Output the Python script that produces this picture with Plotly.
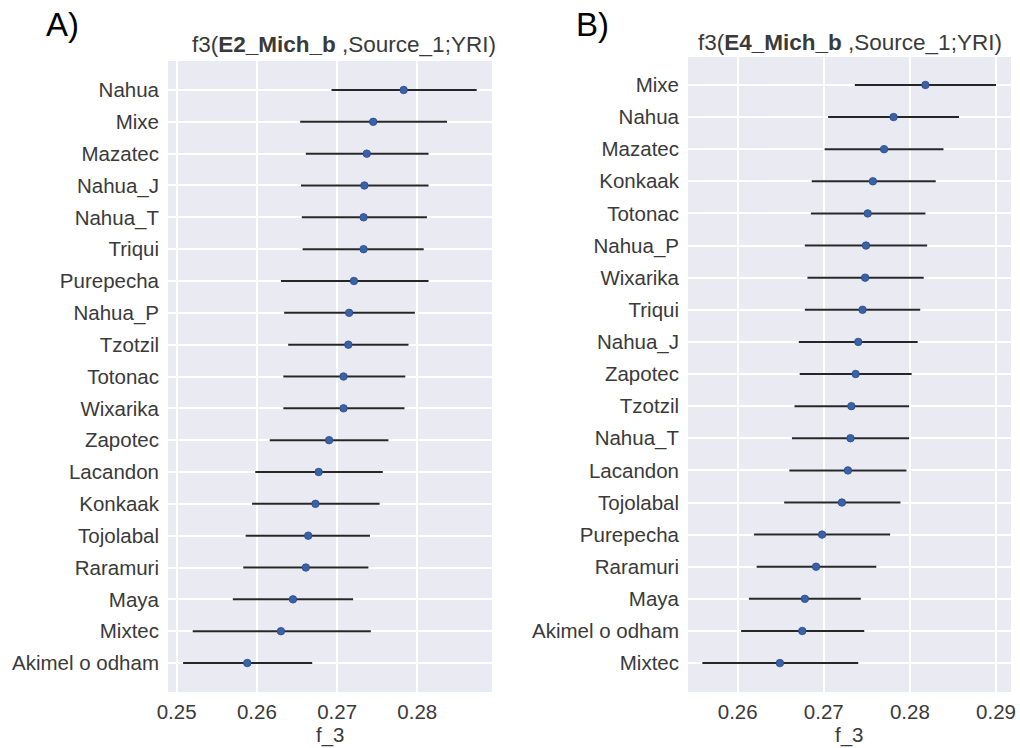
import plotly.graph_objects as go

# Panel A: f3(E2_Mich_b, Source_1; YRI)
pops_a = ["Nahua", "Mixe", "Mazatec", "Nahua_J", "Nahua_T", "Triqui", "Purepecha",
          "Nahua_P", "Tzotzil", "Totonac", "Wixarika", "Zapotec", "Lacandon",
          "Konkaak", "Tojolabal", "Raramuri", "Maya", "Mixtec", "Akimel o odham"]
f3_a = [0.2783, 0.2745, 0.2737, 0.2734, 0.2733, 0.2733, 0.2721, 0.2715, 0.2714,
        0.2708, 0.2708, 0.2690, 0.2677, 0.2673, 0.2664, 0.2661, 0.2645, 0.2630, 0.2588]
lo_a = [0.2693, 0.2654, 0.2661, 0.2655, 0.2656, 0.2657, 0.2630, 0.2634, 0.2639,
        0.2633, 0.2633, 0.2616, 0.2598, 0.2594, 0.2586, 0.2583, 0.2570, 0.2520, 0.2508]
hi_a = [0.2874, 0.2837, 0.2814, 0.2814, 0.2812, 0.2808, 0.2814, 0.2797, 0.2789,
        0.2785, 0.2784, 0.2764, 0.2757, 0.2753, 0.2741, 0.2739, 0.2720, 0.2742, 0.2669]

# Panel B: f3(E4_Mich_b, Source_1; YRI)
pops_b = ["Mixe", "Nahua", "Mazatec", "Konkaak", "Totonac", "Nahua_P", "Wixarika",
          "Triqui", "Nahua_J", "Zapotec", "Tzotzil", "Nahua_T", "Lacandon",
          "Tojolabal", "Purepecha", "Raramuri", "Maya", "Akimel o odham", "Mixtec"]
f3_b = [0.2818, 0.2781, 0.2770, 0.2757, 0.2751, 0.2749, 0.2748, 0.2745, 0.2740,
        0.2737, 0.2732, 0.2731, 0.2728, 0.2721, 0.2698, 0.2691, 0.2678, 0.2675, 0.2649]
lo_b = [0.2736, 0.2705, 0.2701, 0.2686, 0.2685, 0.2678, 0.2681, 0.2678, 0.2671,
        0.2672, 0.2666, 0.2663, 0.2660, 0.2654, 0.2619, 0.2622, 0.2613, 0.2604, 0.2559]
hi_b = [0.2900, 0.2857, 0.2839, 0.2830, 0.2818, 0.2820, 0.2816, 0.2812, 0.2809,
        0.2802, 0.2799, 0.2799, 0.2796, 0.2789, 0.2777, 0.2761, 0.2743, 0.2747, 0.2740]

ticks_a = [0.25, 0.26, 0.27, 0.28]
ticks_b = [0.26, 0.27, 0.28, 0.29]

W, H = 1020, 748
FONT = "Liberation Sans, Arial, sans-serif"
TXT = "#3a3a3a"
BG = "#EAEAF2"
DOT = "#3A62A8"
BAR = "#262626"

fig = go.Figure()


def add_panel(pops, mid, lo, hi, xa, ya):
    fig.add_trace(go.Scatter(
        x=mid, y=list(range(len(pops))), mode="markers",
        xaxis=xa, yaxis=ya,
        marker=dict(color=DOT, size=7.5, line=dict(color="#2a4a85", width=0.8)),
        error_x=dict(type="data", symmetric=False,
                     array=[h - m for h, m in zip(hi, mid)],
                     arrayminus=[m - l for m, l in zip(mid, lo)],
                     color=BAR, thickness=2, width=0),
        showlegend=False, hoverinfo="x+y"))


add_panel(pops_a, f3_a, lo_a, hi_a, "x", "y")
add_panel(pops_b, f3_b, lo_b, hi_b, "x2", "y2")

grid = dict(showgrid=True, gridcolor="white", gridwidth=1.5, zeroline=False,
            showline=False, automargin=False,
            tickfont=dict(family=FONT, size=20.5, color=TXT))

fig.update_layout(
    width=W, height=H, margin=dict(l=0, r=0, t=0, b=0, autoexpand=False),
    paper_bgcolor="white", plot_bgcolor=BG,
    font=dict(family=FONT, color=TXT),
    xaxis=dict(**grid, domain=[168 / W, 492 / W], range=[0.24892, 0.28931],
               tickvals=ticks_a, ticktext=[f"{t:.2f}" for t in ticks_a],
               anchor="y", ticks="", ticklabelstandoff=5),
    yaxis=dict(**grid, domain=[1 - 692 / H, 1 - 61 / H], range=[18.91, -0.91],
               tickvals=list(range(len(pops_a))), ticktext=pops_a,
               anchor="x", ticks="", ticklabelstandoff=8),
    xaxis2=dict(**grid, domain=[688 / W, 1011 / W], range=[0.25423, 0.29174],
                tickvals=ticks_b, ticktext=[f"{t:.2f}" for t in ticks_b],
                anchor="y2", ticks="", ticklabelstandoff=5),
    yaxis2=dict(**grid, domain=[1 - 692 / H, 1 - 57 / H], range=[18.9, -0.87],
                tickvals=list(range(len(pops_b))), ticktext=pops_b,
                anchor="x2", ticks="", ticklabelstandoff=8),
)

ann = [
    dict(text="A)", x=62 / W, y=1 - 24 / H, font=dict(size=33, color="black")),
    dict(text="B)", x=592 / W, y=1 - 24 / H, font=dict(size=33, color="black")),
    dict(text="f3(<b>E2_Mich_b</b> ,Source_1;YRI)", x=344 / W, y=1 - 44 / H,
         font=dict(size=22.5, color=TXT)),
    dict(text="f3(<b>E4_Mich_b</b> ,Source_1;YRI)", x=850 / W, y=1 - 42 / H,
         font=dict(size=22.5, color=TXT)),
    dict(text="f_3", x=330 / W, y=1 - 735 / H, font=dict(size=20.5, color=TXT)),
    dict(text="f_3", x=849 / W, y=1 - 735 / H, font=dict(size=20.5, color=TXT)),
]
for a in ann:
    fig.add_annotation(xref="paper", yref="paper", showarrow=False,
                       xanchor="center", yanchor="middle",
                       x=a["x"], y=a["y"], text=a["text"],
                       font=dict(family=FONT, **a["font"]))

# remove the browser's default 8px body margin so the 1020x748 figure fits the window
fig.write_html("out.html",
               config={"displayModeBar": False},
               post_script="document.body.style.margin='0';"
                           "document.body.style.overflow='hidden';")
